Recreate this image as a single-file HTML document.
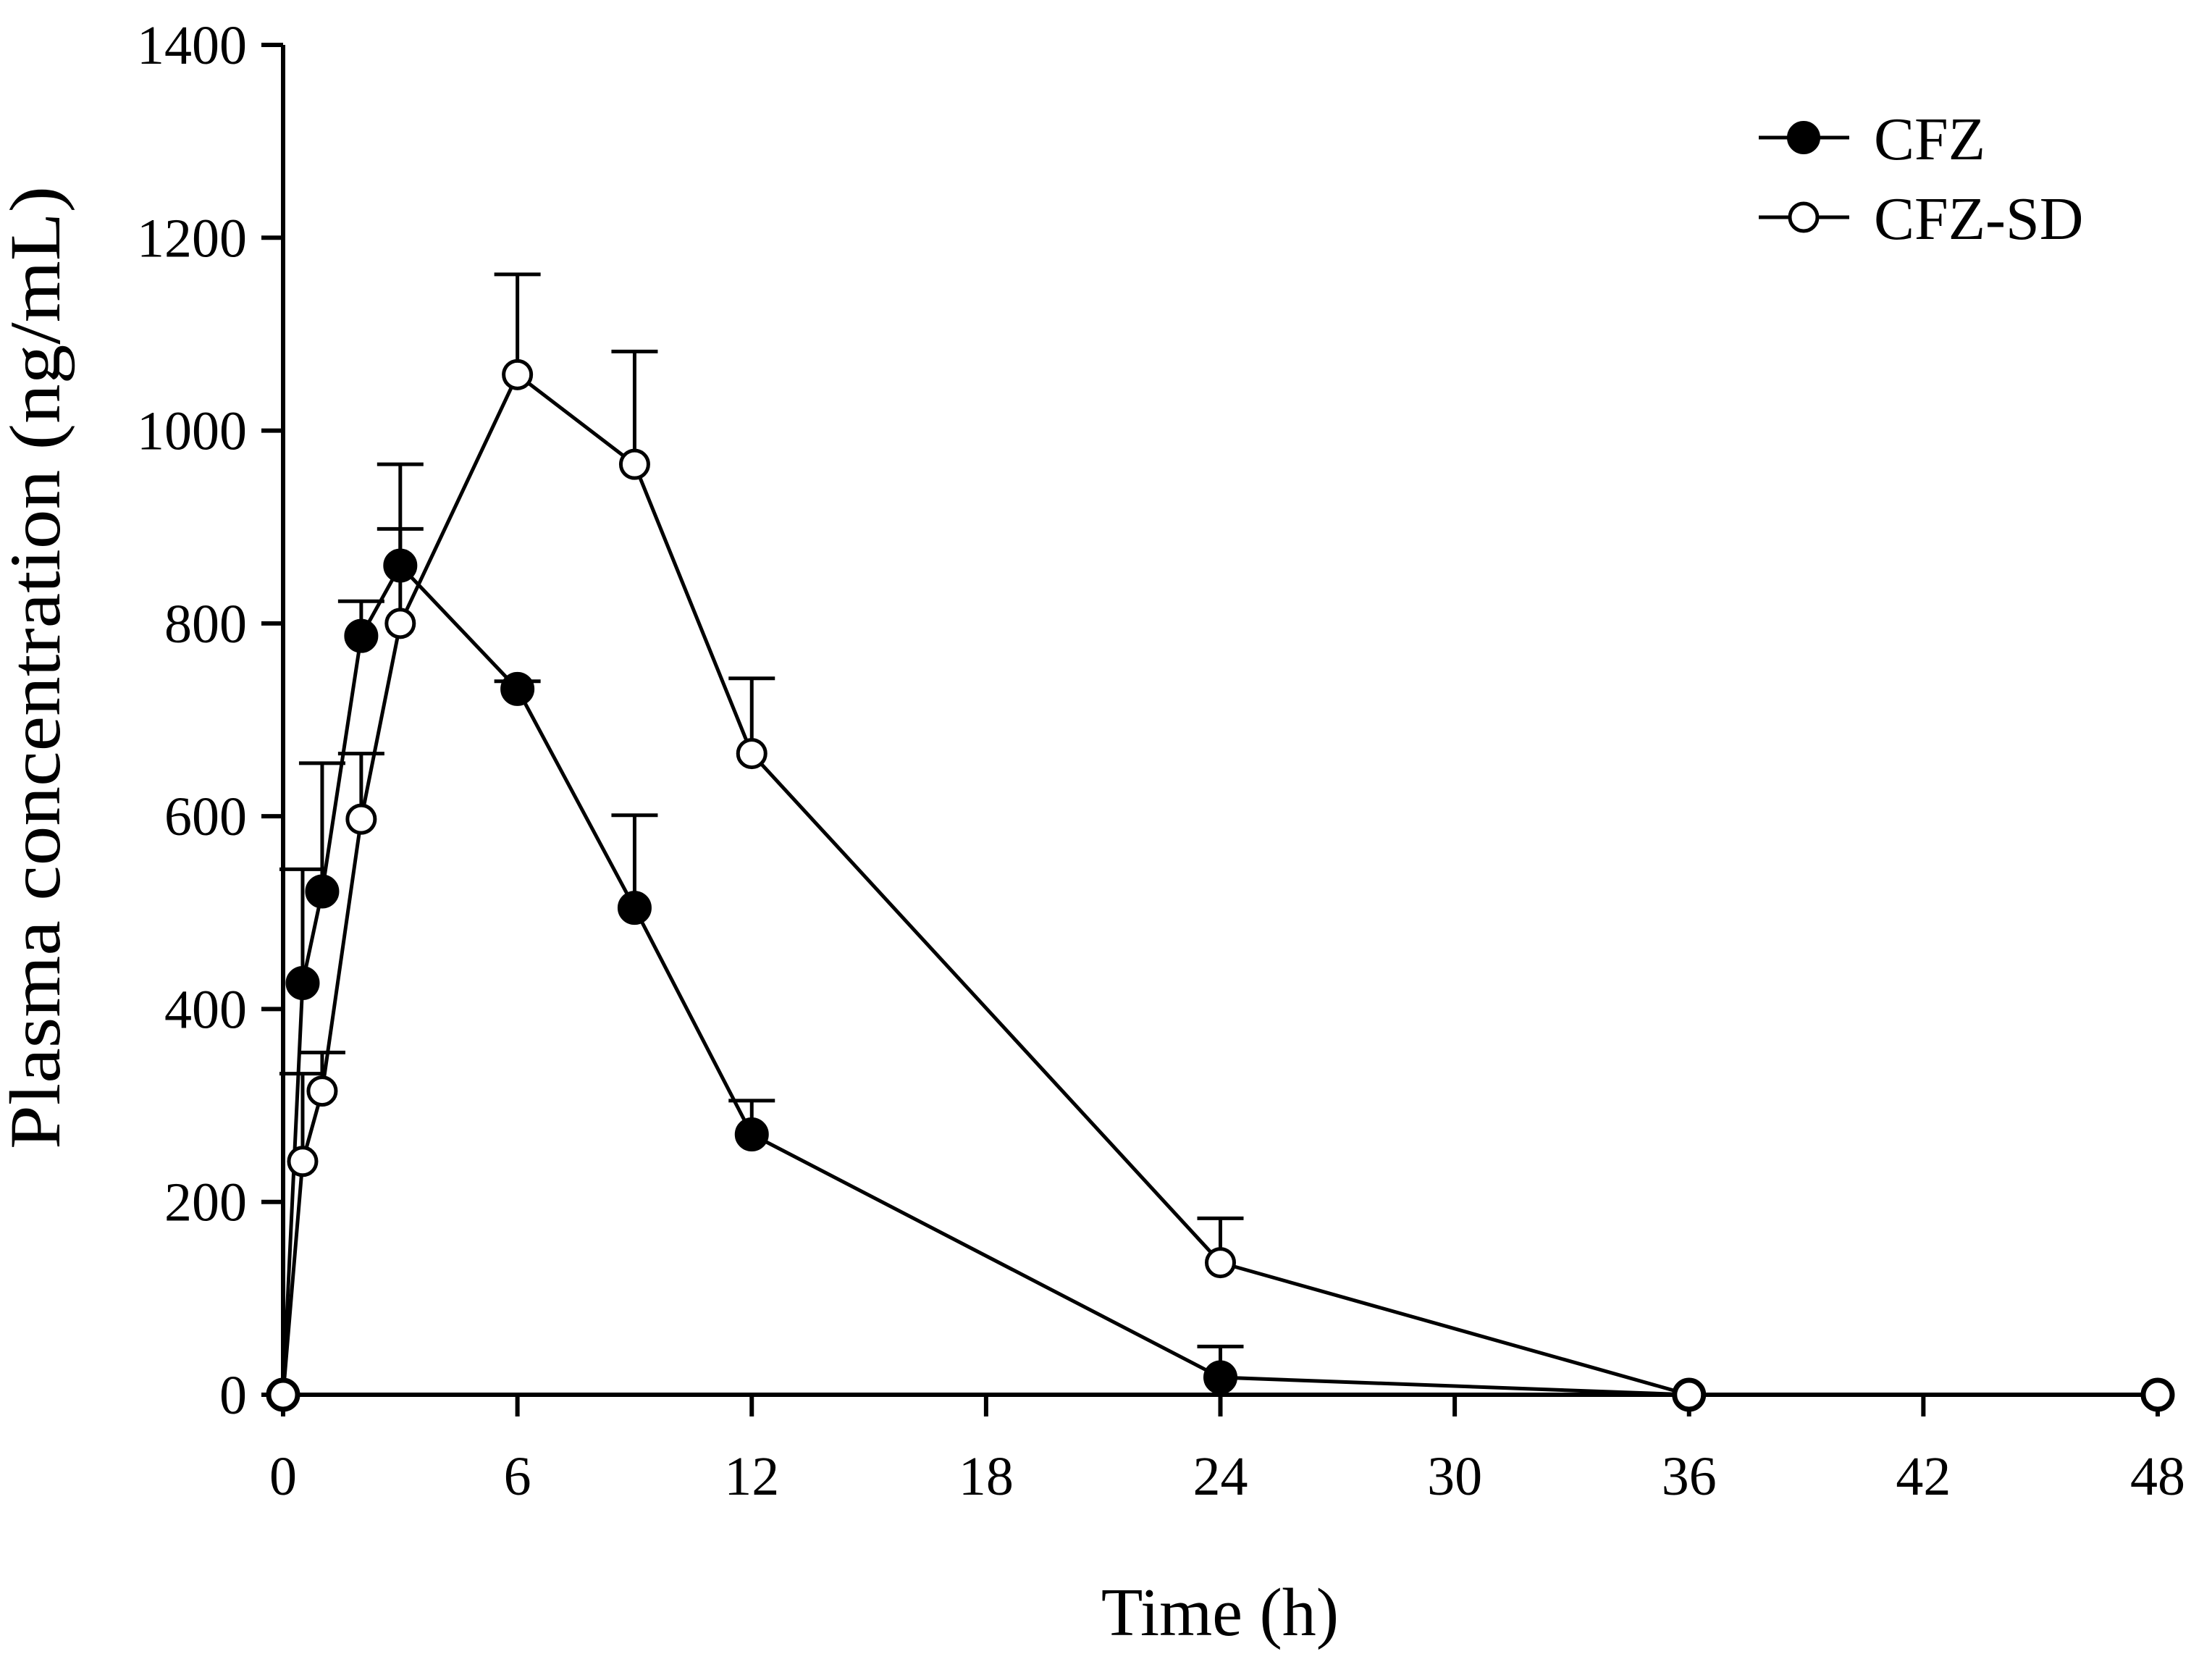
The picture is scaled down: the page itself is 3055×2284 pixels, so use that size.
<!DOCTYPE html>
<html><head><meta charset="utf-8"><style>
html,body{margin:0;padding:0;background:#fff;}
svg{display:block;}
text{font-family:"Liberation Serif",serif;fill:#000;}
</style></head><body>
<svg id="chart" width="3055" height="2284" viewBox="0 0 3055 2284">
<g id="axes"></g>
<g id="series"></g>
<g id="legend">
  <line x1="2429" y1="190" x2="2554" y2="190" stroke="#000" stroke-width="5"/>
  <circle cx="2491" cy="190" r="21" fill="#000" stroke="#000" stroke-width="4"/>
  <text x="2588" y="220" font-size="84">CFZ</text>
  <line x1="2429" y1="300" x2="2554" y2="300" stroke="#000" stroke-width="5"/>
  <circle cx="2491" cy="300" r="19" fill="#fff" stroke="#000" stroke-width="5"/>
  <text x="2588" y="330" font-size="84">CFZ-SD</text>
</g>
<text x="1685" y="2258" font-size="94" text-anchor="middle">Time (h)</text>
<text transform="translate(82,922) rotate(-90)" font-size="100" text-anchor="middle" textLength="1330" lengthAdjust="spacingAndGlyphs">Plasma concentration (ng/mL)</text>
</svg>
<script>
const times = [0, 0.5, 1, 2, 3, 6, 9, 12, 24, 36, 48];
const cfzMean = [0, 427, 522, 787, 860, 732, 505, 270, 18, 0, 0];
const cfzErr = [0, 118, 133, 36, 105, 8, 96, 35, 32, 0, 0];
const sdMean = [0, 242, 315, 597, 800, 1058, 965, 665, 137, 0, 0];
const sdErr = [0, 91, 40, 68, 98, 104, 117, 78, 46, 0, 0];
const xTicks = [0, 6, 12, 18, 24, 30, 36, 42, 48];
const yTicks = [0, 200, 400, 600, 800, 1000, 1200, 1400];

const X0 = 391, X1 = 2980, Y0 = 1926, Y1 = 62;
function xs(v){ return X0 + (v/48)*(X1-X0); }
function ys(v){ return Y0 - (v/1400)*(Y0-Y1); }
const NS = "http://www.w3.org/2000/svg";
function mk(tag, attrs, parent){
  const e = document.createElementNS(NS, tag);
  for (const k in attrs) e.setAttribute(k, attrs[k]);
  parent.appendChild(e);
  return e;
}
const axes = document.getElementById('axes');
const series = document.getElementById('series');

let a = mk('line', {x1:X0, y1:Y0, x2:X0, y2:Y1, stroke:'#000', 'stroke-width':6}, axes);


a = mk('line', {x1:X0, y1:Y0, x2:X1, y2:Y0, stroke:'#000', 'stroke-width':6}, axes);



yTicks.forEach(v => {
  const t = mk('line', {x1:X0-30, y1:ys(v), x2:X0, y2:ys(v), stroke:'#000', 'stroke-width':6}, axes);
  
  
  const l = mk('text', {x:X0-50, y:ys(v)+26, 'font-size':76, 'text-anchor':'end'}, axes);
  l.textContent = v;
  
  
});
xTicks.forEach(v => {
  const t = mk('line', {x1:xs(v), y1:Y0, x2:xs(v), y2:Y0+30, stroke:'#000', 'stroke-width':6}, axes);
  
  
  const l = mk('text', {x:xs(v), y:2064, 'font-size':76, 'text-anchor':'middle'}, axes);
  l.textContent = v;
  
  
});

function drawSeries(mean, err, filled, name){
  const g = mk('g', {}, series);
  
  
  times.forEach((t, i) => {
    if (err[i] > 0) {
      const e = mk('line', {x1:xs(t), y1:ys(mean[i]), x2:xs(t), y2:ys(mean[i]+err[i]), stroke:'#000', 'stroke-width':5}, g);
      
      
      const c = mk('line', {x1:xs(t)-32, y1:ys(mean[i]+err[i]), x2:xs(t)+32, y2:ys(mean[i]+err[i]), stroke:'#000', 'stroke-width':5}, g);
      
      
    }
  });
  const pts = times.map((t, i) => xs(t) + ',' + ys(mean[i])).join(' ');
  const pl = mk('polyline', {points:pts, fill:'none', stroke:'#000', 'stroke-width':5}, g);
  
  
  times.forEach((t, i) => {
    const c = mk('circle', {cx:xs(t), cy:ys(mean[i]), r: filled ? 21 : 19, fill: filled ? '#000' : '#fff', stroke:'#000', 'stroke-width':5}, g);
    
    
  });
}
drawSeries(cfzMean, cfzErr, true, 'cfz');
drawSeries(sdMean, sdErr, false, 'cfz-sd');
</script>
</body></html>
